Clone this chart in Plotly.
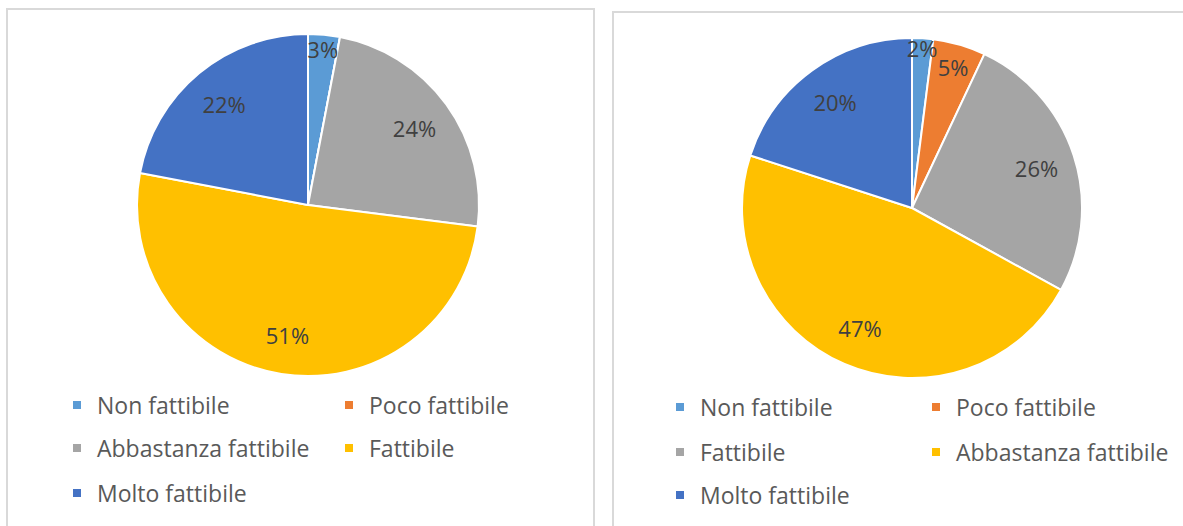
import plotly.graph_objects as go

W, H = 1183, 526

labels_left = ["Non fattibile", "Poco fattibile", "Abbastanza fattibile", "Fattibile", "Molto fattibile"]
values_left = [3, 0, 24, 51, 22]
colors_left = ["#5B9BD5", "#ED7D31", "#A5A5A5", "#FFC000", "#4472C4"]

labels_right = ["Non fattibile", "Poco fattibile", "Fattibile", "Abbastanza fattibile", "Molto fattibile"]
values_right = [2, 5, 26, 47, 20]
colors_right = ["#5B9BD5", "#ED7D31", "#A5A5A5", "#FFC000", "#4472C4"]

FONT = "Open Sans"
TXT = "#404040"
LEG_TXT = "#595959"


def px_x(p):
    return p / W


def px_y(p):
    return 1 - p / H


def tmpl(vals):
    return ["" if v == 0 else "%{percent:.0%}" for v in vals]


fig = go.Figure()
pies = [
    (labels_left, values_left, colors_left, (137, 479), (34, 376)),
    (labels_right, values_right, colors_right, (742, 1082), (38, 378)),
]
for i, (labs, vals, cols, xd, yd) in enumerate(pies):
    dom = dict(x=[px_x(xd[0]), px_x(xd[1])], y=[px_y(yd[1]), px_y(yd[0])])
    # coloured slices
    fig.add_trace(go.Pie(
        labels=[l + " " * i for l in labs], values=vals, sort=False, direction="clockwise", rotation=0,
        marker=dict(colors=cols, line=dict(color="white", width=2)),
        textinfo="none", domain=dom, showlegend=False,
        hovertemplate="%{label}: %{percent:.0%}<extra></extra>",
    ))
    # transparent ring carrying the data labels (places them toward the rim)
    fig.add_trace(go.Pie(
        labels=[l + " " * i for l in labs], values=vals, sort=False, direction="clockwise", rotation=0,
        hole=0.54,
        marker=dict(colors=["rgba(0,0,0,0)"] * len(vals), line=dict(width=0)),
        texttemplate=tmpl(vals), textposition="inside", insidetextorientation="horizontal",
        textfont=dict(family=FONT, size=22, color=TXT),
        domain=dom, showlegend=False, hoverinfo="skip",
    ))

# legends: one row-legend per row of two entries, for each pie
legend_specs = [
    (labels_left, colors_left, 77, 227, [405, 448, 493]),
    (labels_right, colors_right, 680, 211, [407, 452, 495]),
]
layout_legends = {}
n = 0
for p, (labs, cols, x0, ew, rows) in enumerate(legend_specs):
    for r, yc in enumerate(rows):
        n += 1
        key = "legend" if n == 1 else f"legend{n}"
        for j in range(2):
            k = r * 2 + j
            if k >= len(labs):
                continue
            fig.add_trace(go.Scatter(
                x=[None], y=[None], mode="markers", name=labs[k],
                marker=dict(symbol="square", size=8, color=cols[k]),
                legend=key, showlegend=True, hoverinfo="skip",
            ))
        layout_legends[key] = dict(
            orientation="h", entrywidth=ew, entrywidthmode="pixels",
            font=dict(family=FONT, size=23, color=LEG_TXT), bgcolor="rgba(0,0,0,0)",
            x=px_x(x0 - 20), y=px_y(yc), xanchor="left", yanchor="middle",
            traceorder="normal", itemclick=False, itemdoubleclick=False,
        )

fig.update_layout(
    width=W, height=H, margin=dict(l=0, r=0, t=0, b=0),
    paper_bgcolor="white", plot_bgcolor="white",
    xaxis=dict(visible=False), yaxis=dict(visible=False),
    uniformtext=dict(minsize=22, mode="show"),
    shapes=[
        dict(type="rect", xref="paper", yref="paper", x0=px_x(7), x1=px_x(594), y0=px_y(540), y1=px_y(9),
             line=dict(color="#D9D9D9", width=2), layer="below"),
        dict(type="rect", xref="paper", yref="paper", x0=px_x(613), x1=px_x(1200), y0=px_y(540), y1=px_y(12),
             line=dict(color="#D9D9D9", width=2), layer="below"),
    ],
    **layout_legends,
)
fig.write_html("out.html", config={"displayModeBar": False},
               post_script="document.body.style.margin='0';")
